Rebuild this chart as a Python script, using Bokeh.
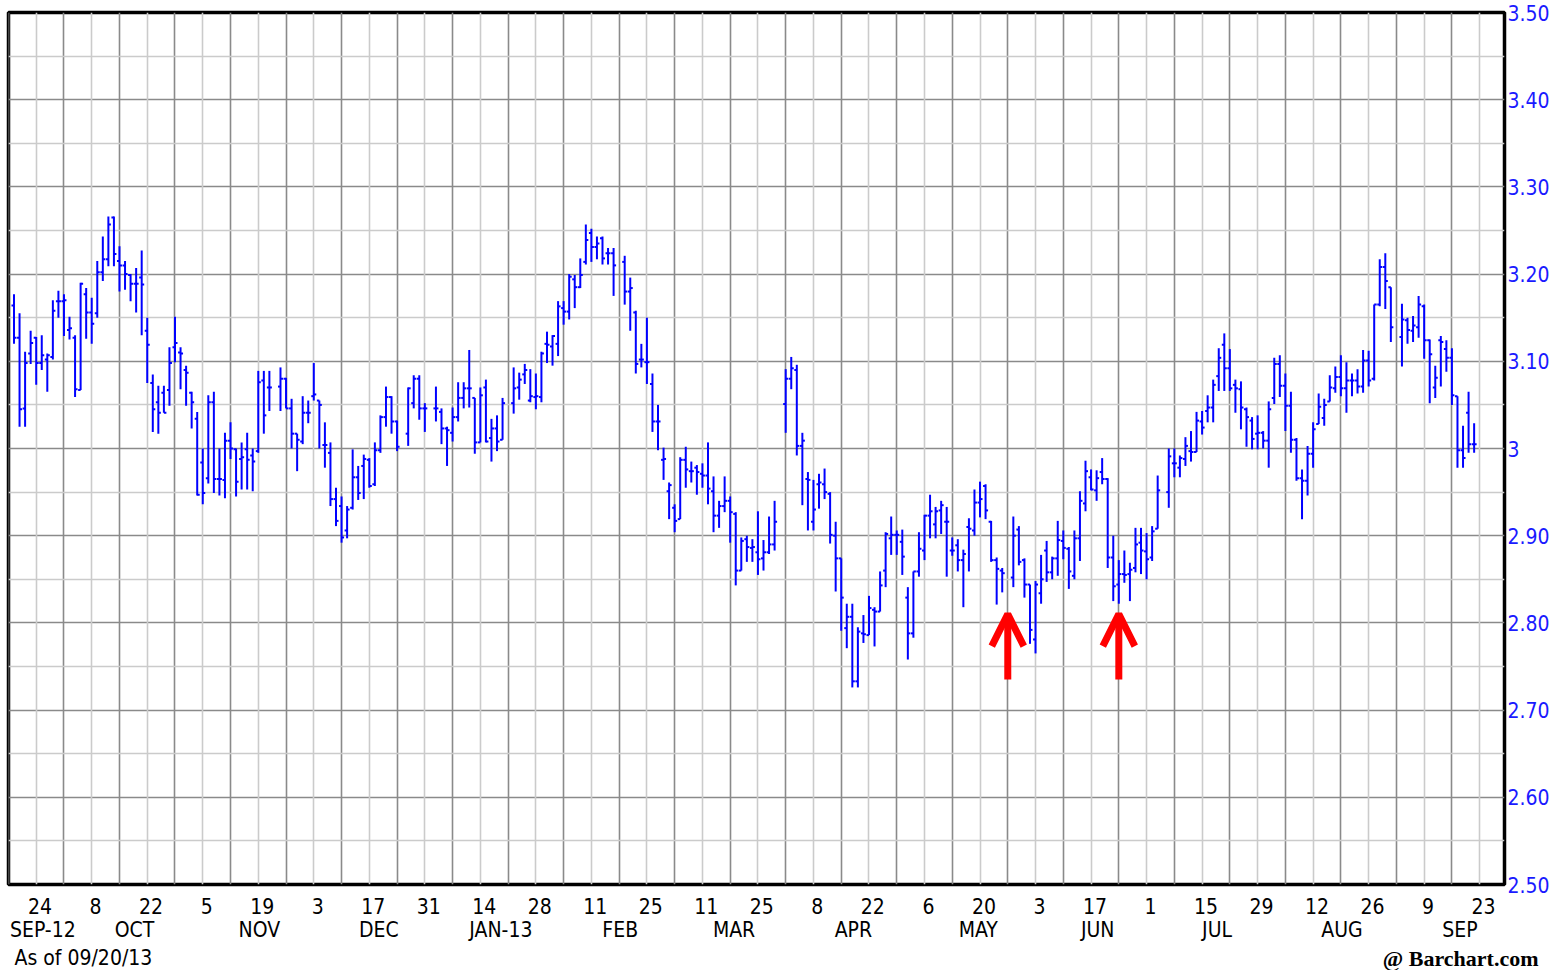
import numpy as np
import pandas as pd
from bokeh.plotting import figure
from bokeh.layouts import column
from bokeh.models import (Range1d, LinearAxis, FixedTicker, Grid,
                          Arrow, OpenHead, ColumnDataSource)
from bokeh.core.properties import value
from bokeh.embed import file_html
from bokeh.resources import INLINE

# ---------------- data ----------------
start_date = "2012-09-18"
end_date = "2013-09-20"
holidays = ["2012-11-22", "2012-12-25", "2013-01-01", "2013-01-21", "2013-02-18",
            "2013-03-29", "2013-05-27", "2013-07-04", "2013-09-02"]

opens = [
    3.164, 3.127, 3.046, 3.109, 3.127, 3.098, 3.102, 3.105, 3.169, 3.169,
    3.136, 3.127, 3.067, 3.177, 3.156, 3.155, 3.202, 3.217, 3.265, 3.215,
    3.210, 3.199, 3.189, 3.196, 3.135, 3.075, 3.053, 3.064, 3.067, 3.116,
    3.110, 3.090, 3.064, 3.034, 2.984, 2.966, 3.053, 2.965, 2.964, 3.009,
    2.999, 2.988, 2.999, 2.992, 2.997, 3.078, 3.070, 3.071, 3.080,
    3.046, 3.017, 3.008, 3.041, 3.060, 3.055, 3.004, 2.995, 2.942, 2.934,
    2.906, 2.932, 2.967, 2.980, 2.987, 2.959, 2.998, 3.036, 3.059, 3.031,
    3.017, 3.052, 3.080, 3.046, 3.046, 3.042, 3.023, 3.018,
    3.036, 3.058, 3.069, 3.058, 3.007, 3.070, 3.012, 3.023, 3.010,
    3.052, 3.070, 3.085, 3.055, 3.059, 3.059, 3.120, 3.117, 3.120, 3.161,
    3.157, 3.194, 3.185, 3.214, 3.247, 3.231, 3.241, 3.224, 3.224,
    3.214, 3.180, 3.156, 3.102, 3.099, 3.074, 3.031, 2.987, 2.951, 2.932,
    2.919, 2.987, 2.974, 2.978, 2.971, 2.969, 2.951, 2.923, 2.934, 2.940,
    2.925, 2.860, 2.896, 2.886, 2.881, 2.874, 2.881, 2.890, 3.051,
    3.080, 3.090, 3.003, 2.965, 2.916, 2.959, 2.959, 2.948, 2.900, 2.874,
    2.794, 2.807, 2.733, 2.788, 2.786, 2.815, 2.813, 2.860, 2.897, 2.901,
    2.893, 2.829, 2.788, 2.859, 2.883, 2.923, 2.913, 2.929, 2.916, 2.883,
    2.889, 2.872, 2.910, 2.906, 2.938, 2.957, 2.916, 2.872, 2.860,
    2.852, 2.907, 2.872, 2.844, 2.781, 2.834, 2.883, 2.858, 2.874, 2.894,
    2.885, 2.854, 2.897, 2.937, 2.967, 2.952, 2.973, 2.965, 2.875, 2.844,
    2.856, 2.856, 2.863, 2.892, 2.882, 2.875, 2.908, 2.950, 2.983,
    2.978, 2.988, 2.997, 2.996, 3.031, 3.043, 3.047, 3.083, 3.119, 3.092,
    3.073, 3.068, 3.045, 3.032, 3.017, 3.018, 3.009, 3.058, 3.097, 3.072,
    3.049, 3.010, 2.966, 2.963, 2.994, 3.028, 3.035, 3.054, 3.069, 3.082,
    3.069, 3.078, 3.078, 3.071, 3.101, 3.080, 3.165, 3.208, 3.185,
    3.128, 3.147, 3.135, 3.139, 3.163, 3.124, 3.070, 3.124, 3.114, 3.104,
    3.060, 2.998, 3.041, 3.005,
]
highs = [
    3.177, 3.155, 3.111, 3.135, 3.128, 3.130, 3.109, 3.170, 3.181, 3.177,
    3.151, 3.130, 3.190, 3.184, 3.173, 3.215, 3.243, 3.266, 3.266, 3.232,
    3.215, 3.200, 3.207, 3.227, 3.150, 3.085, 3.072, 3.072, 3.116, 3.151,
    3.116, 3.095, 3.065, 3.042, 3.000, 3.061, 3.065, 3.000, 3.018, 3.030,
    3.000, 3.007, 3.018, 3.000, 3.089, 3.089, 3.089, 3.093, 3.081,
    3.057, 3.017, 3.060, 3.055, 3.098, 3.055, 3.030, 3.007, 2.955, 2.945,
    2.934, 2.999, 2.980, 2.993, 2.989, 3.007, 3.038, 3.071, 3.060, 3.032,
    3.070, 3.084, 3.084, 3.052, 3.071, 3.046, 3.025, 3.047,
    3.076, 3.076, 3.113, 3.058, 3.070, 3.079, 3.034, 3.038, 3.058,
    3.093, 3.087, 3.097, 3.091, 3.086, 3.111, 3.134, 3.130, 3.169, 3.169,
    3.200, 3.199, 3.218, 3.257, 3.252, 3.243, 3.243, 3.230, 3.230,
    3.221, 3.196, 3.158, 3.120, 3.150, 3.086, 3.050, 3.001, 2.961, 2.936,
    2.990, 3.002, 2.985, 2.981, 2.983, 3.007, 2.968, 2.940, 2.968, 2.945,
    2.927, 2.898, 2.900, 2.896, 2.928, 2.895, 2.922, 2.940, 3.091,
    3.105, 3.096, 3.018, 2.973, 2.964, 2.971, 2.977, 2.950, 2.916, 2.874,
    2.822, 2.822, 2.795, 2.809, 2.831, 2.818, 2.859, 2.904, 2.922, 2.906,
    2.907, 2.841, 2.859, 2.904, 2.924, 2.947, 2.933, 2.940, 2.933, 2.898,
    2.896, 2.884, 2.920, 2.953, 2.962, 2.959, 2.917, 2.875, 2.863,
    2.922, 2.911, 2.874, 2.844, 2.848, 2.878, 2.894, 2.876, 2.917, 2.906,
    2.887, 2.906, 2.951, 2.986, 2.976, 2.975, 2.989, 2.966, 2.900, 2.872,
    2.883, 2.869, 2.909, 2.909, 2.903, 2.911, 2.969, 3.000, 3.000,
    2.992, 3.013, 3.020, 3.042, 3.043, 3.061, 3.079, 3.115, 3.132, 3.114,
    3.079, 3.077, 3.047, 3.036, 3.038, 3.020, 3.054, 3.104, 3.107, 3.086,
    3.065, 3.012, 2.976, 3.003, 3.030, 3.063, 3.057, 3.084, 3.094, 3.107,
    3.099, 3.086, 3.091, 3.113, 3.112, 3.165, 3.217, 3.224, 3.185,
    3.166, 3.150, 3.152, 3.175, 3.165, 3.125, 3.095, 3.129, 3.124, 3.115,
    3.060, 3.026, 3.065, 3.029,
]
lows = [
    3.120, 3.025, 3.025, 3.097, 3.073, 3.090, 3.065, 3.102, 3.150, 3.129,
    3.125, 3.059, 3.067, 3.126, 3.120, 3.150, 3.192, 3.209, 3.209, 3.180,
    3.182, 3.169, 3.156, 3.130, 3.075, 3.019, 3.017, 3.041, 3.049, 3.099,
    3.068, 3.049, 3.023, 2.946, 2.936, 2.960, 2.949, 2.946, 2.943, 2.988,
    2.945, 2.953, 2.953, 2.951, 2.995, 3.017, 3.043, 3.043, 3.046,
    3.000, 2.974, 3.005, 3.029, 3.055, 3.000, 2.978, 2.934, 2.911, 2.892,
    2.897, 2.930, 2.941, 2.942, 2.955, 2.957, 2.995, 3.025, 3.017, 2.997,
    3.003, 3.046, 3.033, 3.019, 3.031, 3.005, 2.980, 3.008,
    3.031, 3.046, 3.047, 2.994, 3.007, 3.007, 2.985, 2.997, 3.010,
    3.040, 3.056, 3.074, 3.053, 3.045, 3.053, 3.098, 3.095, 3.106, 3.142,
    3.148, 3.161, 3.184, 3.211, 3.214, 3.217, 3.211, 3.211, 3.175,
    3.165, 3.135, 3.086, 3.093, 3.074, 3.019, 2.998, 2.964, 2.919, 2.904,
    2.919, 2.955, 2.961, 2.947, 2.955, 2.936, 2.904, 2.909, 2.927, 2.892,
    2.843, 2.860, 2.870, 2.870, 2.855, 2.860, 2.879, 2.883, 3.018,
    3.068, 2.992, 2.935, 2.906, 2.906, 2.931, 2.942, 2.891, 2.836, 2.791,
    2.771, 2.726, 2.726, 2.777, 2.786, 2.773, 2.813, 2.841, 2.878, 2.878,
    2.855, 2.758, 2.783, 2.853, 2.872, 2.897, 2.897, 2.902, 2.853, 2.877,
    2.859, 2.818, 2.859, 2.900, 2.921, 2.919, 2.870, 2.821, 2.835,
    2.841, 2.866, 2.829, 2.776, 2.765, 2.822, 2.847, 2.850, 2.854, 2.873,
    2.839, 2.850, 2.871, 2.928, 2.952, 2.940, 2.959, 2.863, 2.825, 2.822,
    2.846, 2.825, 2.858, 2.856, 2.850, 2.871, 2.908, 2.932, 2.967,
    2.967, 2.980, 2.985, 2.996, 3.016, 3.030, 3.030, 3.066, 3.066, 3.066,
    3.041, 3.022, 3.002, 2.999, 2.999, 3.000, 2.978, 3.051, 3.059, 3.020,
    2.995, 2.963, 2.919, 2.946, 2.978, 3.028, 3.026, 3.054, 3.064, 3.060,
    3.041, 3.060, 3.063, 3.064, 3.071, 3.078, 3.163, 3.160, 3.122,
    3.094, 3.120, 3.122, 3.127, 3.103, 3.052, 3.058, 3.071, 3.088, 3.050,
    2.978, 2.978, 2.995, 2.995,
]
closes = [
    3.127, 3.045, 3.098, 3.121, 3.098, 3.107, 3.107, 3.158, 3.169, 3.170,
    3.138, 3.068, 3.189, 3.156, 3.143, 3.202, 3.217, 3.257, 3.223, 3.210,
    3.200, 3.189, 3.189, 3.188, 3.119, 3.045, 3.041, 3.041, 3.098, 3.121,
    3.109, 3.087, 3.053, 2.947, 2.949, 3.053, 2.965, 2.965, 3.009, 3.000,
    2.962, 2.990, 2.987, 2.985, 3.076, 3.038, 3.070, 3.080, 3.046,
    3.017, 3.010, 3.041, 3.041, 3.062, 3.050, 3.004, 2.942, 2.917, 2.898,
    2.930, 2.967, 2.949, 2.988, 2.957, 2.998, 3.036, 3.059, 3.031, 3.002,
    3.069, 3.080, 3.046, 3.046, 3.046, 3.023, 3.021, 3.036,
    3.058, 3.069, 3.069, 3.007, 3.061, 3.008, 3.023, 3.008, 3.052,
    3.069, 3.079, 3.090, 3.060, 3.060, 3.109, 3.119, 3.129, 3.163, 3.157,
    3.197, 3.185, 3.199, 3.239, 3.231, 3.235, 3.218, 3.224, 3.210,
    3.180, 3.184, 3.097, 3.102, 3.099, 3.031, 3.031, 2.988, 2.958, 2.917,
    2.987, 2.976, 2.974, 2.973, 2.969, 2.954, 2.923, 2.934, 2.940, 2.927,
    2.860, 2.894, 2.887, 2.887, 2.873, 2.881, 2.890, 2.916, 3.080,
    3.092, 3.003, 3.009, 2.964, 2.930, 2.961, 2.950, 2.901, 2.874, 2.829,
    2.807, 2.733, 2.790, 2.787, 2.817, 2.813, 2.843, 2.902, 2.901, 2.901,
    2.876, 2.788, 2.859, 2.885, 2.923, 2.928, 2.928, 2.935, 2.916, 2.883,
    2.872, 2.879, 2.908, 2.938, 2.942, 2.929, 2.872, 2.862, 2.857,
    2.900, 2.870, 2.844, 2.792, 2.844, 2.850, 2.858, 2.874, 2.895, 2.886,
    2.859, 2.897, 2.940, 2.974, 2.953, 2.966, 2.965, 2.875, 2.842, 2.856,
    2.855, 2.861, 2.890, 2.883, 2.873, 2.905, 2.952, 2.991, 2.983,
    2.989, 3.003, 2.996, 3.032, 3.024, 3.047, 3.073, 3.104, 3.092, 3.069,
    3.069, 3.047, 3.036, 3.011, 3.018, 3.009, 3.045, 3.097, 3.072, 3.049,
    3.010, 2.966, 2.963, 2.994, 3.022, 3.048, 3.050, 3.070, 3.082, 3.069,
    3.078, 3.078, 3.071, 3.101, 3.078, 3.165, 3.208, 3.192, 3.139,
    3.148, 3.136, 3.141, 3.165, 3.124, 3.108, 3.081, 3.122, 3.104, 3.061,
    2.998, 2.989, 3.005, 3.005,
]

y_ticks = [2.5, 2.6, 2.7, 2.8, 2.9, 3.0, 3.1, 3.2, 3.3, 3.4, 3.5]
y_tick_labels = ["2.50", "2.60", "2.70", "2.80", "2.90", "3", "3.10", "3.20",
                 "3.30", "3.40", "3.50"]
month_names = ["JAN", "FEB", "MAR", "APR", "MAY", "JUN", "JUL", "AUG", "SEP",
               "OCT", "NOV", "DEC"]
first_day_tick = "2012-09-24"
last_day_tick = "2013-09-23"
arrow_dates = ["2013-05-27", "2013-06-24"]
arrow_tip = 2.81
arrow_tail = 2.735
as_of_text = "As of 09/20/13"
credit_text = "@ Barchart.com"

# ---------------- positions (weekday index) ----------------
d0 = np.datetime64(start_date)


def wd_index(dates):
    arr = pd.DatetimeIndex(dates).values.astype("datetime64[D]")
    return np.busday_count(d0, arr).astype(float)


all_days = pd.bdate_range(start_date, end_date)
trading = all_days[~all_days.isin(pd.to_datetime(holidays))]
n = min(len(trading), len(opens), len(highs), len(lows), len(closes))
x = wd_index(trading[:n])

X_LO, X_HI = -0.99, 268.47
Y_LO, Y_HI = 2.5, 3.5

src = ColumnDataSource(dict(
    x=x, o=opens[:n], h=highs[:n], l=lows[:n], c=closes[:n],
    xl=x - 0.45, xr=x + 0.45))

FONT = "'DejaVu Sans Condensed', 'Liberation Sans Narrow', sans-serif"
BLUE = "#0000ff"

p = figure(frame_width=1496, frame_height=872,
           x_range=Range1d(X_LO, X_HI), y_range=Range1d(Y_LO, Y_HI),
           output_backend="svg", toolbar_location=None,
           y_axis_location="right",
           min_border_left=8, min_border_top=12, min_border_right=0,
           min_border_bottom=50,
           background_fill_color="white", border_fill_color="white",
           outline_line_color="black", outline_line_width=3.5)

# grids
mondays = pd.date_range("2012-09-17", "2013-09-30", freq="W-MON")
mon_x = wd_index(mondays)
day_ticks = pd.date_range(first_day_tick, last_day_tick, freq="14D")
day_x = wd_index(day_ticks)
dark_x = [v for v in mon_x if v not in set(day_x)]

p.xgrid.ticker = FixedTicker(ticks=dark_x)
p.xgrid.grid_line_color = "#8a8a8a"
p.xgrid.grid_line_width = 1.6
p.add_layout(Grid(dimension=0, ticker=FixedTicker(ticks=list(day_x)),
                  grid_line_color="#cbcbcb", grid_line_width=1.6))
p.ygrid.ticker = FixedTicker(ticks=y_ticks)
p.ygrid.grid_line_color = "#8a8a8a"
p.ygrid.grid_line_width = 1.6
half_ticks = [round(v + 0.05, 2) for v in y_ticks[:-1]]
p.add_layout(Grid(dimension=1, ticker=FixedTicker(ticks=half_ticks),
                  grid_line_color="#cbcbcb", grid_line_width=1.6))

# OHLC bars
p.segment(x0="x", y0="l", x1="x", y1="h", source=src, line_color=BLUE, line_width=2)
p.segment(x0="xl", y0="o", x1="x", y1="o", source=src, line_color=BLUE, line_width=2)
p.segment(x0="x", y0="c", x1="xr", y1="c", source=src, line_color=BLUE, line_width=2)


def style_axis(ax, standoff, color="black"):
    ax.major_label_text_font = FONT
    ax.major_label_text_font_size = "21px"
    ax.major_label_text_color = color
    ax.major_label_standoff = standoff
    ax.major_tick_line_color = None
    ax.major_tick_out = 0
    ax.major_tick_in = 0
    ax.minor_tick_line_color = None
    ax.minor_tick_out = 0
    ax.minor_tick_in = 0
    ax.axis_line_color = None


# right axis
ya = p.yaxis[0]
ya.ticker = FixedTicker(ticks=y_ticks)
ya.major_label_overrides = {t: s for t, s in zip(y_ticks, y_tick_labels)}
style_axis(ya, 3, "#1a1aff")

# day-of-month axis (labels sit a little right of their grid line)
label_x = [round(v + 0.7, 2) for v in day_x]
xa = p.xaxis[0]
xa.ticker = FixedTicker(ticks=label_x)
xa.major_label_overrides = {v: str(d.day) for v, d in zip(label_x, day_ticks)}
style_axis(xa, 13)

# month axis
months = pd.period_range("2012-09", "2013-09", freq="M")
month_x, month_lab = [], []
for k, m in enumerate(months):
    days = pd.bdate_range(m.start_time, m.end_time)
    idx = wd_index(days)
    lo = max(idx.min(), X_LO)
    hi = min(idx.max(), X_HI)
    pos = round((lo + hi) / 2 + 1.7, 2)
    lab = month_names[m.month - 1]
    if k == 0 or m.month == 1:
        lab += "-" + str(m.year)[2:]
    month_x.append(pos)
    month_lab.append(lab)
ma = LinearAxis(ticker=FixedTicker(ticks=month_x),
                major_label_overrides={v: s for v, s in zip(month_x, month_lab)})
style_axis(ma, 1)
p.add_layout(ma, "below")

# arrows
for ad in arrow_dates:
    ax = wd_index([ad])[0]
    p.add_layout(Arrow(end=OpenHead(size=32, line_color="#ff0000", line_width=7),
                       x_start=ax, y_start=arrow_tail, x_end=ax, y_end=arrow_tip,
                       line_color="#ff0000", line_width=7))

# footer strip with the two notes
FW, FH = 1550, 26
foot = figure(frame_width=FW, frame_height=FH, x_range=Range1d(0, FW),
              y_range=Range1d(0, FH), output_backend="svg", toolbar_location=None,
              x_axis_location=None, y_axis_location=None,
              min_border_left=0, min_border_right=0, min_border_top=0,
              min_border_bottom=0, outline_line_color=None,
              background_fill_color="white", border_fill_color="white")
foot.xgrid.visible = False
foot.ygrid.visible = False
foot.text(x=[6], y=[13], text=[as_of_text], text_font=value(FONT),
          text_font_size="21px", text_color="black",
          text_baseline="middle", text_align="left")
foot.text(x=[1530], y=[12], text=[credit_text], text_font=value("Liberation Serif"),
          text_font_style="bold", text_font_size="22px", text_color="black",
          text_baseline="middle", text_align="right")

layout = column(p, foot, spacing=0)
open("out.html", "w").write(file_html(layout, INLINE))
